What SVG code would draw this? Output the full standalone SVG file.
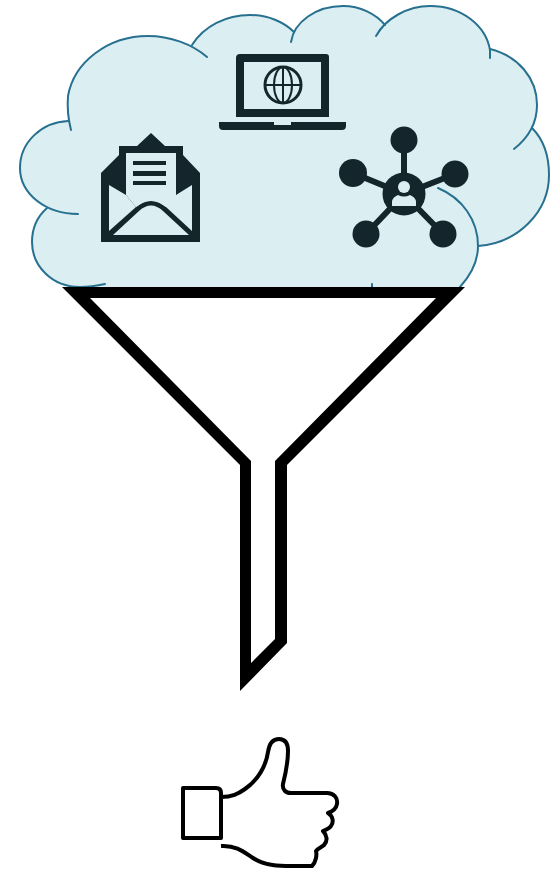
<svg xmlns="http://www.w3.org/2000/svg" width="554" height="877" viewBox="0 0 554 877">
<style>
.cl{fill:none;stroke:#27708f;stroke-width:2;stroke-linecap:round}
.ic{fill:#14262b}
.il{fill:none;stroke:#14262b}
.bg{fill:#dbeff2}
</style>
<rect width="554" height="877" fill="#fff"/>
<g id="cloud">
<path class="bg" d="M80 287C52 287 32 266 32 242C32 228 38 216 47 208C30 202 20 186 20 168C20 142 42 122 68 121C66 112 67 104 68 96C74 62 108 36 148 36C164 36 180 40 192 45C204 26 226 15 250 15C268 15 284 22 294 32C302 16 322 6 343 6C360 6 376 14 385 25C396 13 412 6 430 6C462 6 486 26 490 49C518 56 537 78 537 105C537 114 535 121 532 128C544 140 549 157 549 175C549 212 518 243 478 246C478 262 470 276 460 287Z"/>
<path class="cl" d="M105 284C96 286 88 287 80 287C52 287 32 266 32 242C32 228 38 216 47 208"/>
<path class="cl" d="M78 214C46 214 20 194 20 168C20 142 42 122 68 121"/>
<path class="cl" d="M71 130C68 118 67 108 68 96C74 62 108 36 148 36C170 36 192 44 207 57"/>
<path class="cl" d="M192 45C204 26 226 15 250 15C268 15 284 22 294 32"/>
<path class="cl" d="M291 42C294 22 316 6 343 6C360 6 376 14 385 25"/>
<path class="cl" d="M376 36C386 18 408 6 430 6C462 6 486 26 490 50L490 58"/>
<path class="cl" d="M490 49C518 56 537 78 537 105C537 124 528 138 514 149"/>
<path class="cl" d="M532 128C544 140 549 157 549 175C549 212 518 243 478 246"/>
<path class="cl" d="M438 188C462 198 478 220 478 246C478 262 470 276 460 287"/>
<path class="cl" d="M372 284L372 288"/>
</g>
<g id="laptop">
<path class="ic" d="M240 54H326Q329 54 329 57V117H236V58Q236 54 240 54ZM244 62V109H321V62Z" fill-rule="evenodd"/>
<path class="ic" d="M219 122H274V125H291V122H346V126Q346 130 342 130H223Q219 130 219 126Z"/>
<g class="il" stroke-width="2"><circle cx="283" cy="85" r="18" stroke-width="3"/><ellipse cx="283" cy="85" rx="9" ry="18"/><path d="M283 67V103M265 85H301"/></g>
</g>
<g id="mail">
<path class="ic" fill-rule="evenodd" d="M101 173L119 155V146H137L151 133L165 146H183V155L200 173V242H101ZM126 153V195L109 185V231L136 207ZM176 153H126V195L136 207L142 203Q151 198 160 203L166 207L176 195ZM192 185L176 195L166 207L192 231ZM113 235H189L163 211Q151 200 139 211Z"/>
<path class="bg" d="M126 153H176V195L166 207Q151 195 136 207L126 195Z"/>
<path class="ic" d="M133 161H166V165H133ZM133 171H166V176H133ZM133 181H166V185H133Z"/>
</g>
<g id="network">
<path class="il" stroke-width="6" d="M404 140V194M353 173L404 194M455 174L404 194M366 234L404 194M443 234L404 194"/>
<g class="ic"><circle cx="404" cy="140" r="13.500"/><circle cx="353" cy="173" r="14"/><circle cx="455" cy="174" r="13.500"/><circle cx="366" cy="234" r="13.500"/><circle cx="443" cy="234" r="13.500"/><circle cx="404" cy="194" r="21.500"/></g>
<circle class="bg" cx="404" cy="187" r="6"/>
<path class="bg" d="M392 206V201Q393 197 398 195Q404 198 410 195Q415 197 416 201V206Z"/>
</g>
<g id="funnel">
<path fill="#000" fill-rule="evenodd" d="M62 287H465L287 465V643L240 691V465ZM90 298L251 461V663L275 639V461L436 298Z"/>
</g>
<g id="thumb">
<path fill="none" stroke="#000" stroke-width="4" stroke-linejoin="round" d="M183 788H216Q221 788 221 793V838H183ZM221 797C232 797 238 794 245 789C258 780 266 766 268 752C269 745 272 739 279 739C286 739 288 745 288 751C288 762 286 772 283 784C282 790 286 793 291 793H327C334 793 338 798 337 804C336 810 331 812 328 813C333 816 334 822 331 826C329 829 325 830 323 831C327 835 328 841 324 845C322 847 318 848 316 851C317 855 316 862 312 866H292C280 866 265 866 253 858C244 852 236 845 221 846"/>
</g>
</svg>
